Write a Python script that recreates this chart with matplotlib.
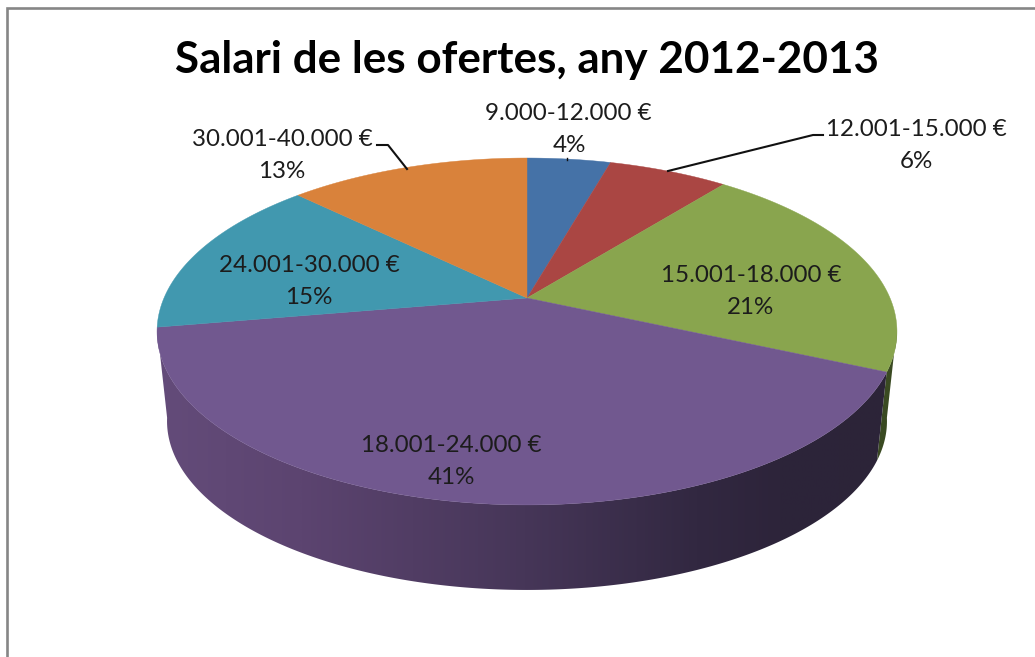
import numpy as np
import matplotlib
matplotlib.use("Agg")
import matplotlib.pyplot as plt
from matplotlib.colors import LinearSegmentedColormap
from matplotlib.patches import Polygon

# ---- data ----
categories = ["9.000-12.000 €", "12.001-15.000 €", "15.001-18.000 €",
              "18.001-24.000 €", "24.001-30.000 €", "30.001-40.000 €"]
shares = [4.4, 6.3, 21.0, 40.6, 15.0, 12.7]
title = "Salari de les ofertes, any 2012-2013"

# ---- style / layout ----
colors = ["#4572A7", "#AA4643", "#89A54E", "#71588F", "#4198AF", "#D9823B"]
label_xy = [(568, 114), (916, 129), (751, 275), (451, 446), (309, 266), (282, 140)]
pct_xy = [(569, 146), (916, 161), (751, 307), (451, 477), (309, 298), (282, 172)]
TEXT = "#1c1c1c"
FONT = "Lato"

CX, CY, RX, RY, K = 527.0, 298.0, 363.0, 167.0, 0.193
SX, DY = 0.973, 90.6


def top(theta):
    u, v = np.sin(theta), np.cos(theta)
    d = 1 + K * v
    return CX + RX * u / d, CY - RY * v / d


def bottom(theta):
    x, y = top(theta)
    return CX + (x - CX) * SX, CY + (y - CY) * SX + DY


fig = plt.figure(figsize=(10.35, 6.57), dpi=100, facecolor="white")
ax = fig.add_axes([0, 0, 1, 1])

# chart frame
ax.plot([6.5, 6.5, 1035], [657, 7.5, 7.5], color="#868686", lw=1.9, solid_joinstyle="miter", zorder=1)

edges = np.deg2rad(np.concatenate([[0], np.cumsum(shares)]) * 3.6)


def wall_polygon(t0, t1):
    ts = np.linspace(t0, t1, 300)
    tx, ty = top(ts)
    bx, by = bottom(ts)
    return np.c_[np.r_[tx, bx[::-1]], np.r_[ty, by[::-1]]]


# green part of the rim
ax.add_patch(Polygon(wall_polygon(np.deg2rad(100), edges[3]), closed=True, facecolor="#3A4A22",
                     edgecolor="none", zorder=2))

# purple part of the rim, shaded left to right
wall_cmap = LinearSegmentedColormap.from_list(
    "wall",
    [(0.00, "#644C7A"), (0.20, "#5C4470"), (0.50, "#463658"), (0.73, "#322841"),
     (0.84, "#2D243A"), (1.00, "#2C2438")])
grad = np.linspace(0, 1, 512).reshape(1, -1)
im = ax.imshow(grad, extent=(150, 900, 640, 300), cmap=wall_cmap, aspect="auto", zorder=2.5,
               interpolation="bilinear")
clip = Polygon(wall_polygon(edges[3], np.deg2rad(260)), closed=True, transform=ax.transData)
im.set_clip_path(clip)

# top surface
for i, c in enumerate(colors):
    ts = np.linspace(edges[i], edges[i + 1], 200)
    x, y = top(ts)
    ax.fill(np.r_[CX, x], np.r_[CY, y], facecolor=c, edgecolor=c, lw=0.3, zorder=3)

# leader lines
ax.plot([377, 388, 407], [145, 145, 169], color="#111111", lw=1.5, zorder=4)
ax.plot([823, 813, 668], [135, 135, 171], color="#111111", lw=1.5, zorder=4)
ax.plot([567, 567], [158, 160], color="#111111", lw=1.0, zorder=4)

# labels
for name, s, p1, p2 in zip(categories, shares, label_xy, pct_xy):
    ax.text(*p1, name, ha="center", va="center", fontsize=17.4, family=FONT, color=TEXT, zorder=5)
    ax.text(*p2, f"{round(s):d}%", ha="center", va="center", fontsize=17.4, family=FONT, color=TEXT, zorder=5)

ax.text(527, 60, title, ha="center", va="center", fontsize=31.7, fontweight="bold", family=FONT,
        color="black", zorder=5)

ax.set_xlim(0, 1035)
ax.set_ylim(657, 0)
ax.axis("off")

fig.savefig("out.png", dpi=100)
